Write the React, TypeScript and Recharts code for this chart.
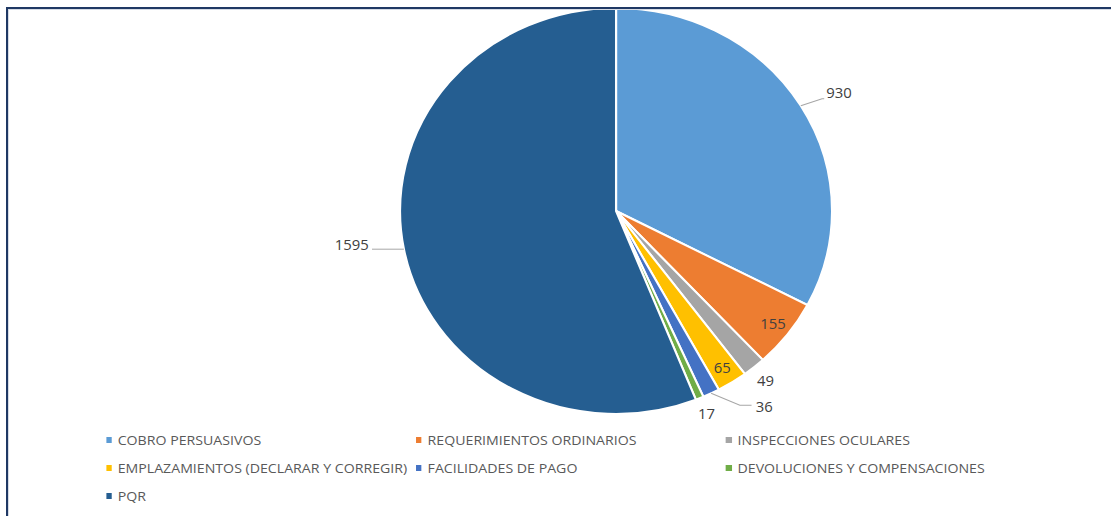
import React from 'react';
import { PieChart, Pie, Cell, Legend } from 'recharts';

// categories and counts
const categories = [
  'COBRO PERSUASIVOS',
  'REQUERIMIENTOS ORDINARIOS',
  'INSPECCIONES OCULARES',
  'EMPLAZAMIENTOS (DECLARAR Y CORREGIR)',
  'FACILIDADES DE PAGO',
  'DEVOLUCIONES Y COMPENSACIONES',
  'PQR',
];
const counts = [930, 155, 49, 65, 36, 17, 1595];
const colors = ['#5B9BD5', '#ED7D31', '#A5A5A5', '#FFC000', '#4472C4', '#70AD47', '#255E91'];

const data = categories.map((name, i) => ({ name, value: counts[i] }));

// source picture is stretched sideways a bit, so is this one
const STRETCH = 1.064;
const RADIAN = Math.PI / 180;
const LABEL_COLOR = '#404040';
const LEADER = '#A6A6A6';

// how each label sits, by slice order
const labelMode = ['leaderRight', 'inside', 'outside', 'inside', 'leaderDown', 'outside', 'leaderLeft'];

const renderLabel = (props: any) => {
  const { cx, cy, midAngle, outerRadius, index, value } = props;
  const cos = Math.cos(-midAngle * RADIAN);
  const sin = Math.sin(-midAngle * RADIAN);
  const ex = cx + outerRadius * cos;
  const ey = cy + outerRadius * sin;
  const mode = labelMode[index];
  const textProps = { fill: LABEL_COLOR, fontSize: 14, dominantBaseline: 'central' as const };

  if (mode === 'inside') {
    const r = outerRadius * 0.915;
    return (
      <text x={cx + r * cos} y={cy + r * sin} textAnchor="middle" {...textProps}>
        {value}
      </text>
    );
  }
  if (mode === 'outside') {
    const r = outerRadius + 17;
    return (
      <text x={cx + r * cos} y={cy + r * sin} textAnchor="middle" {...textProps}>
        {value}
      </text>
    );
  }
  if (mode === 'leaderRight') {
    const bx = ex + 20;
    const by = ey - 7;
    return (
      <g>
        <polyline points={`${ex},${ey} ${bx},${by} ${bx + 2},${by}`} fill="none" stroke={LEADER} strokeWidth={1} />
        <text x={bx + 4} y={by - 6} textAnchor="start" {...textProps}>
          {value}
        </text>
      </g>
    );
  }
  if (mode === 'leaderDown') {
    const bx = ex + 27;
    const by = ey + 12;
    return (
      <g>
        <polyline points={`${ex},${ey} ${bx},${by} ${bx + 11},${by}`} fill="none" stroke={LEADER} strokeWidth={1} />
        <text x={bx + 15} y={by + 1} textAnchor="start" {...textProps}>
          {value}
        </text>
      </g>
    );
  }
  // leaderLeft
  const bx = ex - 30;
  return (
    <g>
      <polyline points={`${ex},${ey} ${bx},${ey}`} fill="none" stroke={LEADER} strokeWidth={1} />
      <text x={bx - 3} y={ey - 5} textAnchor="end" {...textProps}>
        {value}
      </text>
    </g>
  );
};

// legend kept in the series order (recharts would sort it otherwise)
const LegendBox = () => (
  <div style={{ position: 'relative', width: 1044, height: 84 }}>
    {categories.map((name, i) => {
      const col = i % 3;
      const row = Math.floor(i / 3);
      return (
        <div
          key={`lg-${i}`}
          style={{
            position: 'absolute',
            left: 99.6 + col * 291.3,
            top: row * 28,
            height: 28,
            display: 'flex',
            alignItems: 'center',
            whiteSpace: 'nowrap',
          }}
        >
          <span style={{ display: 'inline-block', width: 5.5, height: 5.5, background: colors[i], marginRight: 5.5 }} />
          <span style={{ fontSize: 13.3, color: '#595959' }}>{name}</span>
        </div>
      );
    })}
  </div>
);

export default function App() {
  return (
    <div
      style={{
        position: 'fixed',
        left: 0,
        top: 0,
        width: 1111,
        height: 516,
        overflow: 'hidden',
        background: '#fff',
        fontFamily: '"Open Sans", sans-serif',
      }}
    >
      <div
        style={{
          position: 'absolute',
          left: 0,
          top: 0,
          width: 1044,
          height: 516,
          transform: `scaleX(${STRETCH})`,
          transformOrigin: '0 0',
        }}
      >
        <PieChart width={1044} height={516} margin={{ top: 0, right: 0, bottom: 0, left: 0 }}>
          <Pie
            data={data}
            dataKey="value"
            nameKey="name"
            cx={579}
            cy={211}
            outerRadius={203}
            startAngle={90}
            endAngle={-270}
            stroke="#fff"
            strokeWidth={2}
            label={renderLabel}
            labelLine={false}
            isAnimationActive={false}
          >
            {data.map((entry, i) => (
              <Cell key={`cell-${i}`} fill={colors[i]} />
            ))}
          </Pie>
          <Legend
            content={<LegendBox />}
            wrapperStyle={{ position: 'absolute', left: 0, top: 426, width: 1044, height: 84, bottom: 'auto' }}
          />
        </PieChart>
      </div>
      <div
        style={{
          position: 'absolute',
          left: 6,
          top: 7,
          width: 1200,
          height: 600,
          borderTop: '2px solid #1F3864',
          borderLeft: '2px solid #1F3864',
          boxShadow: 'inset 1px 1px 0 #D5DBE5',
          pointerEvents: 'none',
        }}
      />
    </div>
  );
}
